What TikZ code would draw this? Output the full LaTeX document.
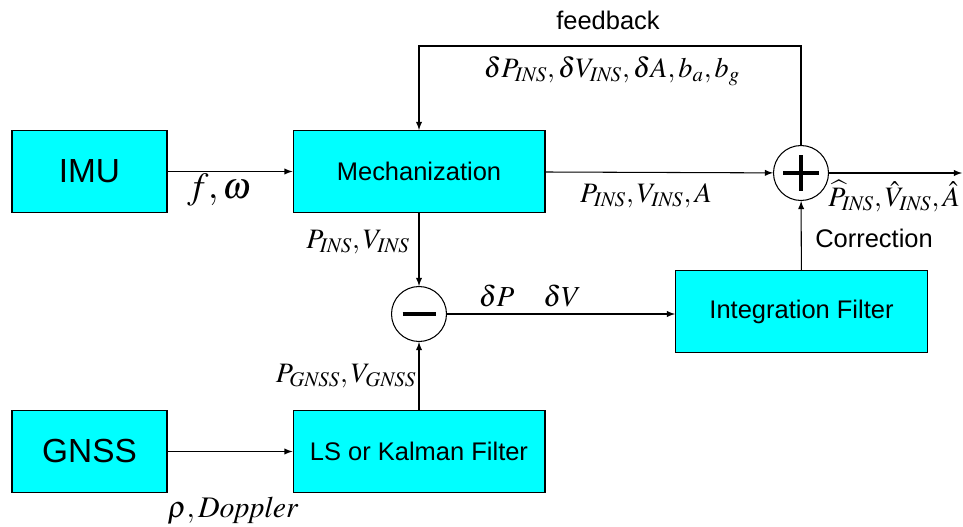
\documentclass[tikz,border=0pt]{standalone}
\usepackage{mathptmx}
\usepackage{fontspec}
\setmainfont{Liberation Sans}
\usetikzlibrary{arrows}
\definecolor{boxcyan}{RGB}{0,255,255}

\begin{document}
\begin{tikzpicture}
	[>=latex, x=0.02cm, y=-0.02cm, line width=0.6pt,
	block/.style={draw, fill=boxcyan, minimum width=5.04cm, minimum height=1.64cm, font=\fontsize{14.5}{16}\selectfont},
	sensor/.style={draw, fill=boxcyan, minimum width=3.1cm, minimum height=1.64cm, font=\fontsize{19}{21}\selectfont},
	junction/.style={draw, circle, minimum size=1.1cm, inner sep=0pt},
	lbl/.style={font=\fontsize{16}{18}\selectfont},
	note/.style={font=\fontsize{14.5}{16}\selectfont}]
	\useasboundingbox (0,0) rectangle (963,527);
	% blocks
	\node[sensor] (IMU) at (89.5,171.5) {IMU};
	\node[sensor] (GNSS) at (89.5,451.5) {GNSS};
	\node[block] (Mech) at (419,171.5) {Mechanization};
	\node[block] (LS) at (419,451.5) {LS or Kalman Filter};
	\node[block] (IF) at (801.5,311.5) {Integration Filter};
	% sum points
	\node[junction] (minus) at (419,314) {};
	\node[junction] (plus) at (801,173) {};
	\draw[line width=2.4pt] ([xshift=-0.33cm]minus.center) -- ([xshift=0.33cm]minus.center);
	\draw[line width=2.4pt] ([xshift=-0.36cm]plus.center) -- ([xshift=0.36cm]plus.center)
		([yshift=-0.36cm]plus.center) -- ([yshift=0.36cm]plus.center);
	\coordinate (out) at (962,173);
	\coordinate (fbR) at (801,46);
	\coordinate (fbL) at (419,46);
	% connections
	\draw[->] (IMU) -- (Mech);
	\draw[->] (GNSS) -- (LS);
	\draw[->] (Mech) -- (plus);
	\draw[->] (plus) -- (out);
	\draw[->] (Mech) -- (minus);
	\draw[->] (LS) -- (minus);
	\draw[->] (minus) -- (minus -| IF.west);
	\draw[->] (IF) -- (plus);
	\draw[->] (plus) -- (fbR) -- (fbL) -- (Mech);
	% labels
	\node[note] (fbtxt) at (608,20) {feedback};
	\node[lbl] (fbvar) at (612,71) {$\delta P_{\mathit{INS}},\delta V_{\mathit{INS}},\delta A, b_a, b_g$};
	\node[font=\fontsize{21}{23}\selectfont] (imuvar) at (219,190) {$f,\omega$};
	\node[lbl] (mechvar) at (646,196) {$P_{\mathit{INS}},V_{\mathit{INS}},A$};
	\node[lbl] (outvar) at (894,196) {$\widehat{P}_{\mathit{INS}},\hat{V}_{\mathit{INS}},\hat{A}$};
	\node[note] (corr) at (874,238) {Correction};
	\node[lbl] (insvar) at (358,242) {$P_{\mathit{INS}},V_{\mathit{INS}}$};
	\node[font=\fontsize{16.5}{18}\selectfont] (dvar) at (530,296) {$\delta P\quad\delta V$};
	\node[lbl] (gnssvar) at (346,376) {$P_{\mathit{GNSS}},V_{\mathit{GNSS}}$};
	\node[font=\fontsize{17}{19}\selectfont] (rhovar) at (233,511) {$\rho,\mathit{Doppler}$};
\end{tikzpicture}
\end{document}
